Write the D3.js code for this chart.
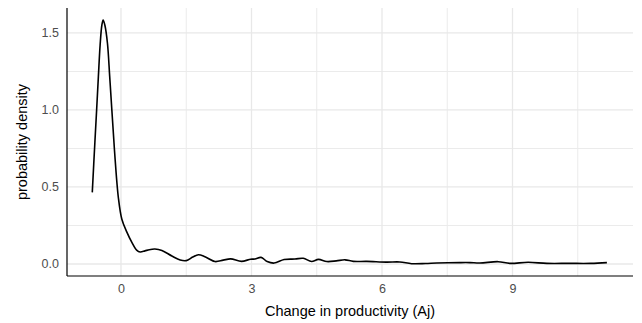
<!DOCTYPE html>
<html>
<head>
<meta charset="utf-8">
<script src="https://cdn.jsdelivr.net/npm/d3@7"></script>
<style>
  html, body { margin: 0; padding: 0; background: #fff; }
  svg { display: block; font-family: "Liberation Sans", Arial, sans-serif; }
</style>
</head>
<body>
<svg id="chart" width="642" height="323"></svg>
<script>
// Kernel density estimate of the change in productivity (Aj)
const densityX = [-0.66, -0.60, -0.56, -0.52, -0.48, -0.44, -0.41, -0.37, -0.31, -0.26,
  -0.21, -0.15, -0.06, 0.02, 0.13, 0.25, 0.36, 0.44, 0.55, 0.65, 0.78, 0.94, 1.17, 1.36,
  1.50, 1.65, 1.78, 1.93, 2.16, 2.35, 2.52, 2.77, 2.98, 3.08, 3.22, 3.36, 3.52, 3.75,
  4.00, 4.19, 4.38, 4.54, 4.73, 4.95, 5.15, 5.34, 5.65, 6.10, 6.41, 6.68, 7.00, 7.26,
  7.79, 8.02, 8.25, 8.67, 8.94, 9.36, 9.79, 10.30, 10.80, 11.17];
const densityY = [0.465, 0.79, 1.00, 1.215, 1.42, 1.55, 1.584, 1.55, 1.43, 1.22,
  1.00, 0.74, 0.43, 0.29, 0.21, 0.14, 0.09, 0.078, 0.085, 0.093, 0.097, 0.088, 0.052, 0.026,
  0.022, 0.045, 0.060, 0.047, 0.016, 0.025, 0.033, 0.017, 0.031, 0.032, 0.043, 0.016, 0.006, 0.029,
  0.032, 0.037, 0.016, 0.030, 0.016, 0.020, 0.027, 0.017, 0.017, 0.012, 0.013, 0.002, 0.003, 0.006,
  0.009, 0.009, 0.006, 0.015, 0.004, 0.011, 0.004, 0.004, 0.004, 0.009];

const xTicks = [0, 3, 6, 9];
const xMinor = [1.5, 4.5, 7.5, 10.5];
const yTicks = [0, 0.5, 1.0, 1.5];
const yMinor = [0.25, 0.75, 1.25];
const xTitle = "Change in productivity (Aj)";
const yTitle = "probability density";

const svg = d3.select("#chart");
const panel = { left: 67, right: 633, top: 8, bottom: 276 };

const x = d3.scaleLinear().domain([-1.241, 11.77]).range([panel.left, panel.right]);
const y = d3.scaleLinear().domain([-0.078, 1.662]).range([panel.bottom, panel.top]);

const grid = svg.append("g");
grid.selectAll(".ymin").data(yMinor).join("line")
  .attr("x1", panel.left).attr("x2", panel.right)
  .attr("y1", d => y(d)).attr("y2", d => y(d))
  .attr("stroke", "#ebebeb").attr("stroke-width", 1);
grid.selectAll(".xmin").data(xMinor).join("line")
  .attr("y1", panel.top).attr("y2", panel.bottom)
  .attr("x1", d => x(d)).attr("x2", d => x(d))
  .attr("stroke", "#ebebeb").attr("stroke-width", 1);
grid.selectAll(".ymaj").data(yTicks).join("line")
  .attr("x1", panel.left).attr("x2", panel.right)
  .attr("y1", d => y(d)).attr("y2", d => y(d))
  .attr("stroke", "#e8e8e8").attr("stroke-width", 1.3);
grid.selectAll(".xmaj").data(xTicks).join("line")
  .attr("y1", panel.top).attr("y2", panel.bottom)
  .attr("x1", d => x(d)).attr("x2", d => x(d))
  .attr("stroke", "#e8e8e8").attr("stroke-width", 1.3);

// Axes: lines plus labels, no tick marks
const xAxis = d3.axisBottom(x).tickValues(xTicks).tickFormat(d3.format("d")).tickSize(0).tickPadding(8);
const yAxis = d3.axisLeft(y).tickValues(yTicks).tickFormat(d3.format(".1f")).tickSize(0).tickPadding(8);

const gx = svg.append("g").attr("transform", `translate(0,${panel.bottom})`).call(xAxis);
const gy = svg.append("g").attr("transform", `translate(${panel.left},0)`).call(yAxis);
[gx, gy].forEach(g => {
  g.select(".domain").remove();
  g.selectAll("text").attr("fill", "#4d4d4d").style("font-size", "12.5px")
    .style("font-family", "'Liberation Sans', Arial, sans-serif");
});

svg.append("line").attr("x1", panel.left).attr("x2", panel.right)
  .attr("y1", panel.bottom).attr("y2", panel.bottom)
  .attr("stroke", "#000").attr("stroke-width", 1.2);
svg.append("line").attr("x1", panel.left).attr("x2", panel.left)
  .attr("y1", panel.top).attr("y2", panel.bottom)
  .attr("stroke", "#000").attr("stroke-width", 1.2);

const pts = densityX.map((d, i) => [d, densityY[i]]);
const line = d3.line().x(d => x(d[0])).y(d => y(d[1])).curve(d3.curveCatmullRom.alpha(0.5));
svg.append("path").datum(pts).attr("d", line)
  .attr("fill", "none").attr("stroke", "#000").attr("stroke-width", 1.6)
  .attr("stroke-linejoin", "round");

svg.append("text").attr("x", (panel.left + panel.right) / 2).attr("y", 316)
  .attr("text-anchor", "middle").attr("fill", "#000").style("font-size", "14.5px")
  .text(xTitle);
svg.append("text").attr("transform", `translate(27,${(panel.top + panel.bottom) / 2}) rotate(-90)`)
  .attr("text-anchor", "middle").attr("fill", "#000").style("font-size", "14.5px")
  .text(yTitle);
</script>
</body>
</html>
